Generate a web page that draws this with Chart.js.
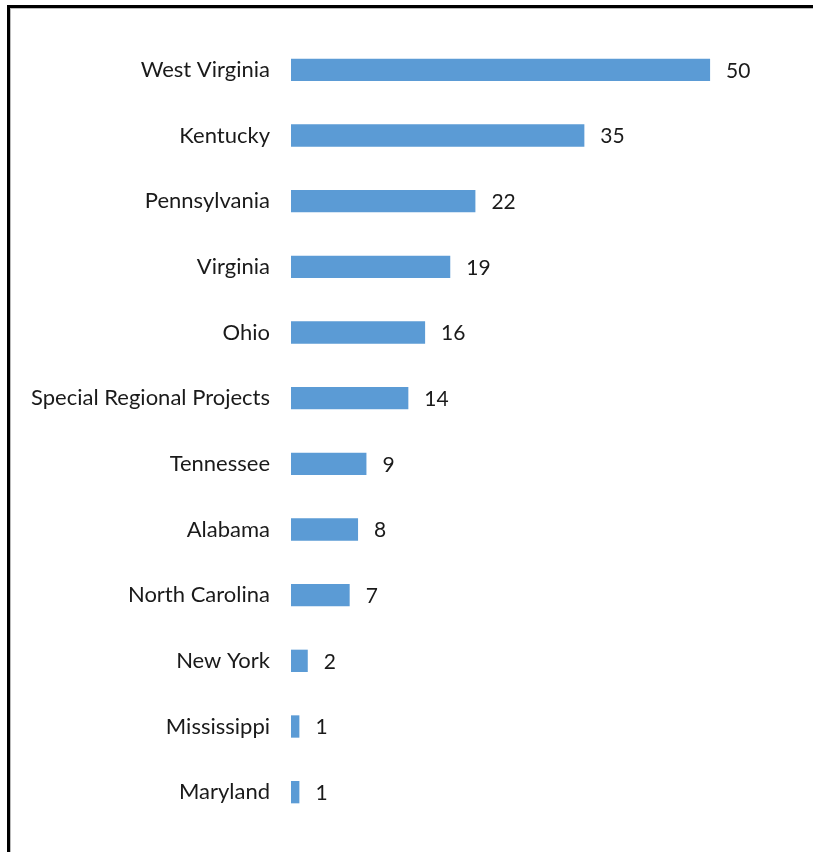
<!DOCTYPE html>
<html>
<head>
<meta charset="utf-8">
<script src="https://cdn.jsdelivr.net/npm/chart.js@4.4.1/dist/chart.umd.min.js"></script>
<style>
    html, body { margin: 0; padding: 0; background: #fff; overflow: hidden; }
    #frame {
        position: absolute; left: 7px; top: 5px; width: 900px; height: 900px;
        border-left: 3px solid #000; border-top: 3px solid #000;
        box-shadow: inset 1px 1px 0 #bbb;
    }
    #myChart { position: absolute; left: 0; top: 0; }
</style>
</head>
<body>
<div id="frame"></div>
<canvas id="myChart" width="813" height="852"></canvas>
<script>
var estados = ['West Virginia', 'Kentucky', 'Pennsylvania', 'Virginia', 'Ohio',
    'Special Regional Projects', 'Tennessee', 'Alabama', 'North Carolina',
    'New York', 'Mississippi', 'Maryland'];
var valores = [50, 35, 22, 19, 16, 14, 9, 8, 7, 2, 1, 1];

var fonte = "Lato, 'Open Sans', sans-serif";

// escreve o valor no fim de cada barra
var rotulosValor = {
    id: 'rotulosValor',
    afterDatasetsDraw: function (chart) {
        var ctx = chart.ctx;
        var meta = chart.getDatasetMeta(0);
        ctx.save();
        ctx.font = '21px ' + fonte;
        ctx.fillStyle = '#1a1a1a';
        ctx.textAlign = 'left';
        ctx.textBaseline = 'middle';
        meta.data.forEach(function (bar, i) {
            ctx.fillText(String(valores[i]), bar.x + 16, bar.y + 1);
        });
        ctx.restore();
    }
};

var ctx = document.getElementById('myChart').getContext('2d');
var myChart = new Chart(ctx, {
    type: 'bar',
    data: {
        labels: estados,
        datasets: [{
            data: valores,
            backgroundColor: '#5B9BD5',
            borderWidth: 0,
            barPercentage: 1,
            categoryPercentage: 0.34
        }]
    },
    options: {
        indexAxis: 'y',
        responsive: false,
        animation: false,
        layout: { padding: { top: 37, bottom: 27, left: 0, right: 61 } },
        plugins: { legend: { display: false }, tooltip: { enabled: false } },
        scales: {
            x: { display: false, min: 0, max: 55 },
            y: {
                grid: { display: false, drawTicks: false },
                border: { display: false },
                ticks: {
                    color: '#1a1a1a',
                    padding: 21,
                    font: { family: fonte, size: 22 }
                },
                afterFit: function (scale) {
                    scale.width = 291;
                    scale.paddingTop = 0;
                    scale.paddingBottom = 0;
                }
            }
        }
    },
    plugins: [rotulosValor]
});
</script>
</body>
</html>
